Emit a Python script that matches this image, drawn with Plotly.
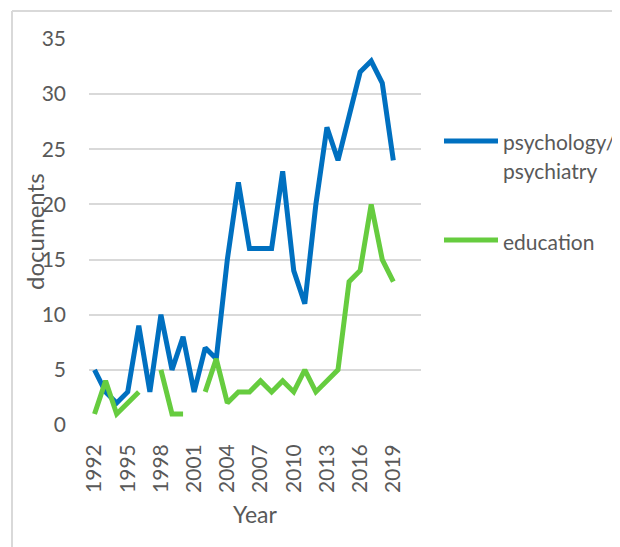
import plotly.graph_objects as go

years = list(range(1992, 2020))
psychology = [5, 3, 2, 3, 9, 3, 10, 5, 8, 3, 7, 6, 15, 22, 16, 16, 16, 23, 14, 11, 20, 27, 24, 28, 32, 33, 31, 24]
education = [1, 4, 1, 2, 3, None, 5, 1, 1, None, 3, 6, 2, 3, 3, 4, 3, 4, 3, 5, 3, 4, 5, 13, 14, 20, 15, 13]
tick_years = list(range(1992, 2020, 3))
y_ticks = [0, 5, 10, 15, 20, 25, 30, 35]

BLUE = "#0070C0"
GREEN = "#66CC3F"
GRAY = "#595959"
GRID = "#D9D9D9"
FONT = "Lato"

O = 8  # page body offset
W, H = 620 - O, 547 - O
L, R, T, B = 89 - O, 421 - O, 39 - O, 425 - O


def px(x):
    return (x - O - L) / (R - L)


def py(y):
    return (B - (y - O)) / (B - T)


fig = go.Figure()
fig.add_trace(go.Scatter(x=years, y=psychology, mode="lines", name="psychology/<br>psychiatry",
                         line=dict(color=BLUE, width=5), connectgaps=False))
fig.add_trace(go.Scatter(x=years, y=education, mode="lines", name="education",
                         line=dict(color=GREEN, width=5), connectgaps=False))

fig.update_layout(
    width=W, height=H,
    margin=dict(l=L, r=W - R, t=T, b=H - B),
    paper_bgcolor="white", plot_bgcolor="white",
    showlegend=False,
    font=dict(family=FONT, color=GRAY, size=21),
    xaxis=dict(range=[1991.5, 2021.5], tickmode="array", tickvals=tick_years,
               ticktext=[str(y) for y in tick_years], tickangle=-90,
               showgrid=False, zeroline=False, showline=False, ticks="",
               ticklabelstandoff=14, tickfont=dict(size=21, color=GRAY),
               title=dict(text="Year", font=dict(size=23, color=GRAY), standoff=14)),
    yaxis=dict(range=[0, 35], tickmode="array", tickvals=y_ticks,
               showgrid=True, gridcolor=GRID, gridwidth=1.5, zeroline=False,
               showline=False, ticks="", ticklabelstandoff=22,
               tickfont=dict(size=21, color=GRAY)),
)

# y-axis title (overlaps tick labels as in the reference)
fig.add_annotation(xref="paper", yref="paper", x=px(34), y=py(232), text="documents",
                   textangle=-90, showarrow=False, xanchor="center", yanchor="middle",
                   font=dict(size=24, color=GRAY))

# outer chart border (left and top edges visible)
fig.add_shape(type="line", xref="paper", yref="paper", x0=px(12), x1=px(12), y0=py(11), y1=py(560),
              line=dict(color=GRID, width=2))
fig.add_shape(type="line", xref="paper", yref="paper", x0=px(12), x1=px(640), y0=py(11), y1=py(11),
              line=dict(color=GRID, width=2))

# custom legend
legend_items = [(BLUE, 141), (GREEN, 240)]
for color, yy in legend_items:
    fig.add_shape(type="line", xref="paper", yref="paper", x0=px(444), x1=px(498), y0=py(yy), y1=py(yy),
                  line=dict(color=color, width=5))
for text, yy in [("psychology/", 141), ("psychiatry", 170), ("education", 241)]:
    fig.add_annotation(xref="paper", yref="paper", x=px(501), y=py(yy), text=text,
                       showarrow=False, xanchor="left", yanchor="middle", font=dict(size=21, color=GRAY))

fig.write_html("out.html")
